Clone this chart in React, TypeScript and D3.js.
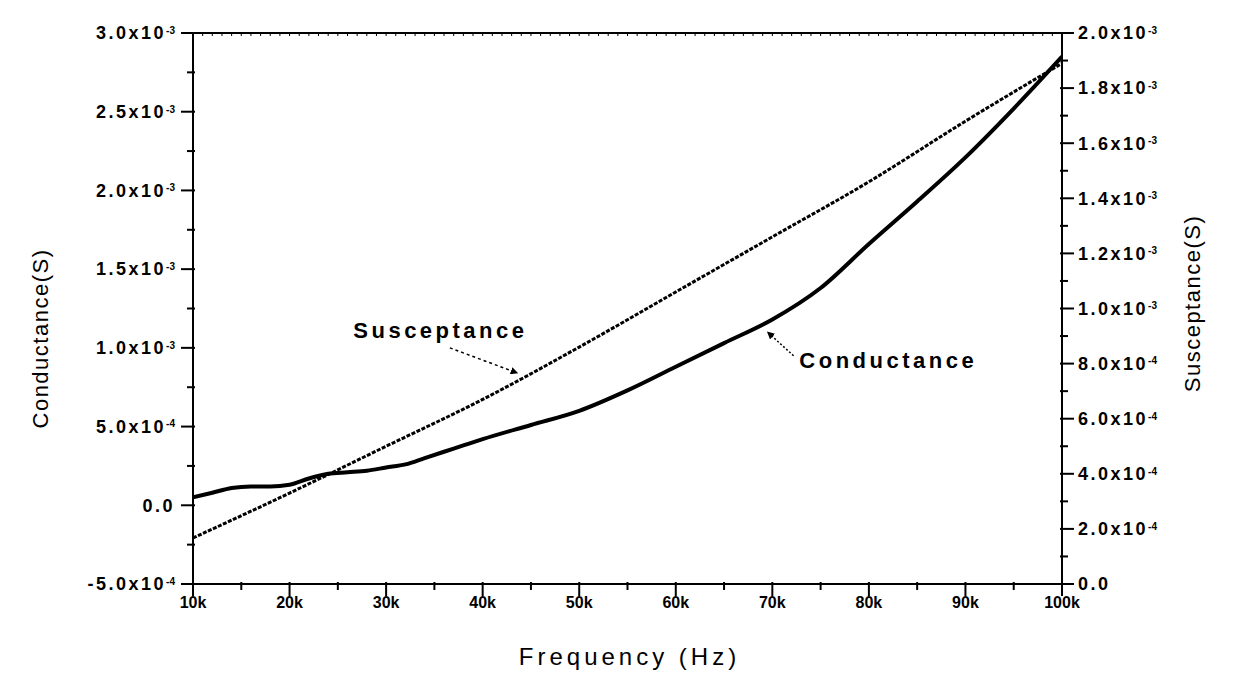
import React from 'react'
import * as d3 from 'd3'

// frequency in kHz
const condFreq = [10, 12, 14, 16, 18, 20, 22, 24, 26, 28, 30, 32, 34, 36, 38, 40, 45, 50, 55, 60, 65, 70, 75, 80, 85, 90, 95, 100]
// conductance, S
const condValues = [0.05e-3, 0.08e-3, 0.11e-3, 0.12e-3, 0.12e-3, 0.13e-3, 0.17e-3, 0.2e-3, 0.21e-3, 0.22e-3, 0.24e-3, 0.26e-3, 0.3e-3, 0.34e-3, 0.38e-3, 0.42e-3, 0.51e-3, 0.6e-3, 0.73e-3, 0.88e-3, 1.03e-3, 1.18e-3, 1.38e-3, 1.66e-3, 1.93e-3, 2.21e-3, 2.52e-3, 2.85e-3]

const susFreq = [10, 20, 30, 40, 50, 60, 70, 80, 90, 100]
// susceptance, S
const susValues = [0.167e-3, 0.33e-3, 0.5e-3, 0.67e-3, 0.86e-3, 1.06e-3, 1.26e-3, 1.46e-3, 1.68e-3, 1.89e-3]

const xTicks = [10, 20, 30, 40, 50, 60, 70, 80, 90, 100]
const leftTicks = [
  { v: 3.0e-3, m: '3.0x10', e: '-3' },
  { v: 2.5e-3, m: '2.5x10', e: '-3' },
  { v: 2.0e-3, m: '2.0x10', e: '-3' },
  { v: 1.5e-3, m: '1.5x10', e: '-3' },
  { v: 1.0e-3, m: '1.0x10', e: '-3' },
  { v: 0.5e-3, m: '5.0x10', e: '-4' },
  { v: 0, m: '0.0', e: '' },
  { v: -0.5e-3, m: '-5.0x10', e: '-4' },
]
const rightTicks = [
  { v: 2.0e-3, m: '2.0x10', e: '-3' },
  { v: 1.8e-3, m: '1.8x10', e: '-3' },
  { v: 1.6e-3, m: '1.6x10', e: '-3' },
  { v: 1.4e-3, m: '1.4x10', e: '-3' },
  { v: 1.2e-3, m: '1.2x10', e: '-3' },
  { v: 1.0e-3, m: '1.0x10', e: '-3' },
  { v: 0.8e-3, m: '8.0x10', e: '-4' },
  { v: 0.6e-3, m: '6.0x10', e: '-4' },
  { v: 0.4e-3, m: '4.0x10', e: '-4' },
  { v: 0.2e-3, m: '2.0x10', e: '-4' },
  { v: 0, m: '0.0', e: '' },
]

const width = 1233
const height = 676
const margin = { top: 33, right: 171, bottom: 92, left: 193 }
const font = '"Liberation Sans", Arial, sans-serif'

const App = () => {
  const ref = React.useRef<SVGSVGElement>(null)

  React.useEffect(() => {
    const svg = d3.select(ref.current)
    svg.selectAll('*').remove()

    const innerWidth = width - margin.left - margin.right
    const innerHeight = height - margin.top - margin.bottom

    const x = d3.scaleLinear().domain([10, 100]).range([0, innerWidth])
    const yL = d3.scaleLinear().domain([-0.5e-3, 3.0e-3]).range([innerHeight, 0])
    const yR = d3.scaleLinear().domain([0, 2.0e-3]).range([innerHeight, 0])

    const g = svg.append('g').attr('transform', 'translate(' + margin.left + ',' + margin.top + ')')

    // frame
    g.append('rect')
      .attr('width', innerWidth)
      .attr('height', innerHeight)
      .attr('fill', 'none')
      .attr('stroke', 'black')
      .attr('stroke-width', 2)

    // bottom axis ticks
    g.selectAll('.xminor')
      .data(d3.range(10, 100.1, 5))
      .enter()
      .append('line')
      .attr('x1', (d) => x(d))
      .attr('x2', (d) => x(d))
      .attr('y1', innerHeight - 2)
      .attr('y2', (d) => innerHeight + (d % 10 === 0 ? 12 : 6))
      .attr('stroke', 'black')
      .attr('stroke-width', 2)
    // top mirrored minor ticks
    g.selectAll('.xtop')
      .data(d3.range(10, 100.1, 1))
      .enter()
      .append('line')
      .attr('x1', (d) => x(d))
      .attr('x2', (d) => x(d))
      .attr('y1', 0)
      .attr('y2', 3)
      .attr('stroke', 'black')
      .attr('stroke-width', 1)

    g.selectAll('.xlab')
      .data(xTicks)
      .enter()
      .append('text')
      .attr('x', (d) => x(d))
      .attr('y', innerHeight + 24)
      .attr('text-anchor', 'middle')
      .style('font-family', font)
      .style('font-size', '16px')
      .style('font-weight', 'bold')
      .text((d) => d + 'k')

    // left axis ticks
    g.selectAll('.ylminor')
      .data(d3.range(-0.5e-3, 3.01e-3, 0.25e-3))
      .enter()
      .append('line')
      .attr('x1', (d, i) => (i % 2 === 0 ? -12 : -6))
      .attr('x2', 2)
      .attr('y1', (d) => yL(d))
      .attr('y2', (d) => yL(d))
      .attr('stroke', 'black')
      .attr('stroke-width', 2)

    const lt = g.selectAll('.yllab')
      .data(leftTicks)
      .enter()
      .append('text')
      .attr('x', -18)
      .attr('y', (d) => yL(d.v))
      .attr('dy', '0.35em')
      .attr('text-anchor', 'end')
      .style('font-family', font)
      .style('font-size', '18px')
      .style('font-weight', 'bold')
      .style('letter-spacing', '2.5px')
    lt.append('tspan').text((d) => d.m)
    lt.append('tspan')
      .attr('dy', '-0.55em')
      .style('font-size', '10px')
      .style('letter-spacing', '0px')
      .text((d) => d.e)

    // right axis ticks
    g.selectAll('.yrminor')
      .data(d3.range(0, 2.001e-3, 0.1e-3))
      .enter()
      .append('line')
      .attr('x1', innerWidth - 2)
      .attr('x2', (d, i) => innerWidth + (i % 2 === 0 ? 12 : 6))
      .attr('y1', (d) => yR(d))
      .attr('y2', (d) => yR(d))
      .attr('stroke', 'black')
      .attr('stroke-width', 2)

    const rt = g.selectAll('.yrlab')
      .data(rightTicks)
      .enter()
      .append('text')
      .attr('x', innerWidth + 16)
      .attr('y', (d) => yR(d.v))
      .attr('dy', '0.35em')
      .attr('text-anchor', 'start')
      .style('font-family', font)
      .style('font-size', '18px')
      .style('font-weight', 'bold')
      .style('letter-spacing', '2.5px')
    rt.append('tspan').text((d) => d.m)
    rt.append('tspan')
      .attr('dy', '-0.55em')
      .style('font-size', '10px')
      .style('letter-spacing', '0px')
      .text((d) => d.e)

    // axis titles
    svg.append('text')
      .attr('transform', 'translate(48,' + (margin.top + innerHeight / 2 + 30) + ') rotate(-90)')
      .attr('text-anchor', 'middle')
      .style('font-family', font)
      .style('font-size', '22px')
      .style('letter-spacing', '1.5px')
      .text('Conductance(S)')
    svg.append('text')
      .attr('transform', 'translate(1200,' + (margin.top + innerHeight / 2 - 5) + ') rotate(-90)')
      .attr('text-anchor', 'middle')
      .style('font-family', font)
      .style('font-size', '22px')
      .style('letter-spacing', '1.5px')
      .text('Susceptance(S)')
    svg.append('text')
      .attr('x', margin.left + innerWidth / 2 + 2)
      .attr('y', 665)
      .attr('text-anchor', 'middle')
      .style('font-family', font)
      .style('font-size', '24px')
      .style('letter-spacing', '4px')
      .text('Frequency (Hz)')

    // curves
    const defs = svg.append('defs')
    defs.append('clipPath').attr('id', 'plotclip')
      .append('rect').attr('width', innerWidth).attr('height', innerHeight)

    const condLine = d3.line<number>()
      .x((d, i) => x(condFreq[i]))
      .y((d) => yL(d))
      .curve(d3.curveMonotoneX)
    const susLine = d3.line<number>()
      .x((d, i) => x(susFreq[i]))
      .y((d) => yR(d))
      .curve(d3.curveMonotoneX)

    const plot = g.append('g').attr('clip-path', 'url(#plotclip)')
    plot.append('path')
      .attr('d', susLine(susValues))
      .attr('fill', 'none')
      .attr('stroke', 'black')
      .attr('stroke-width', 3)
      .attr('stroke-dasharray', '4,1.5')
    plot.append('path')
      .attr('d', condLine(condValues))
      .attr('fill', 'none')
      .attr('stroke', 'black')
      .attr('stroke-width', 4)

    // annotations
    defs.append('marker')
      .attr('id', 'arrow')
      .attr('viewBox', '0 0 10 10')
      .attr('refX', 9)
      .attr('refY', 5)
      .attr('markerWidth', 5)
      .attr('markerHeight', 5)
      .attr('orient', 'auto')
      .append('path')
      .attr('d', 'M0,0 L10,5 L0,10 z')
      .attr('fill', 'black')

    g.append('text')
      .attr('x', x(26.6))
      .attr('y', yL(1.065e-3))
      .style('font-family', font)
      .style('font-size', '22px')
      .style('font-weight', 'bold')
      .style('letter-spacing', '3.5px')
      .text('Susceptance')
    g.append('line')
      .attr('x1', x(36.6))
      .attr('y1', yL(1.0e-3))
      .attr('x2', x(43.6))
      .attr('y2', yL(0.84e-3))
      .attr('stroke', 'black')
      .attr('stroke-width', 1.5)
      .attr('stroke-dasharray', '3,3')
      .attr('marker-end', 'url(#arrow)')

    g.append('text')
      .attr('x', x(72.8))
      .attr('y', yL(0.875e-3))
      .style('font-family', font)
      .style('font-size', '22px')
      .style('font-weight', 'bold')
      .style('letter-spacing', '3.5px')
      .text('Conductance')
    g.append('line')
      .attr('x1', x(72.2))
      .attr('y1', yL(0.95e-3))
      .attr('x2', x(69.5))
      .attr('y2', yL(1.1e-3))
      .attr('stroke', 'black')
      .attr('stroke-width', 1.5)
      .attr('stroke-dasharray', '2,2')
      .attr('marker-end', 'url(#arrow)')
  }, [])

  return (
    <svg
      ref={ref}
      width={width}
      height={height}
      style={{ position: 'absolute', left: 0, top: 0, background: 'white' }}
    ></svg>
  )
}

export default App
